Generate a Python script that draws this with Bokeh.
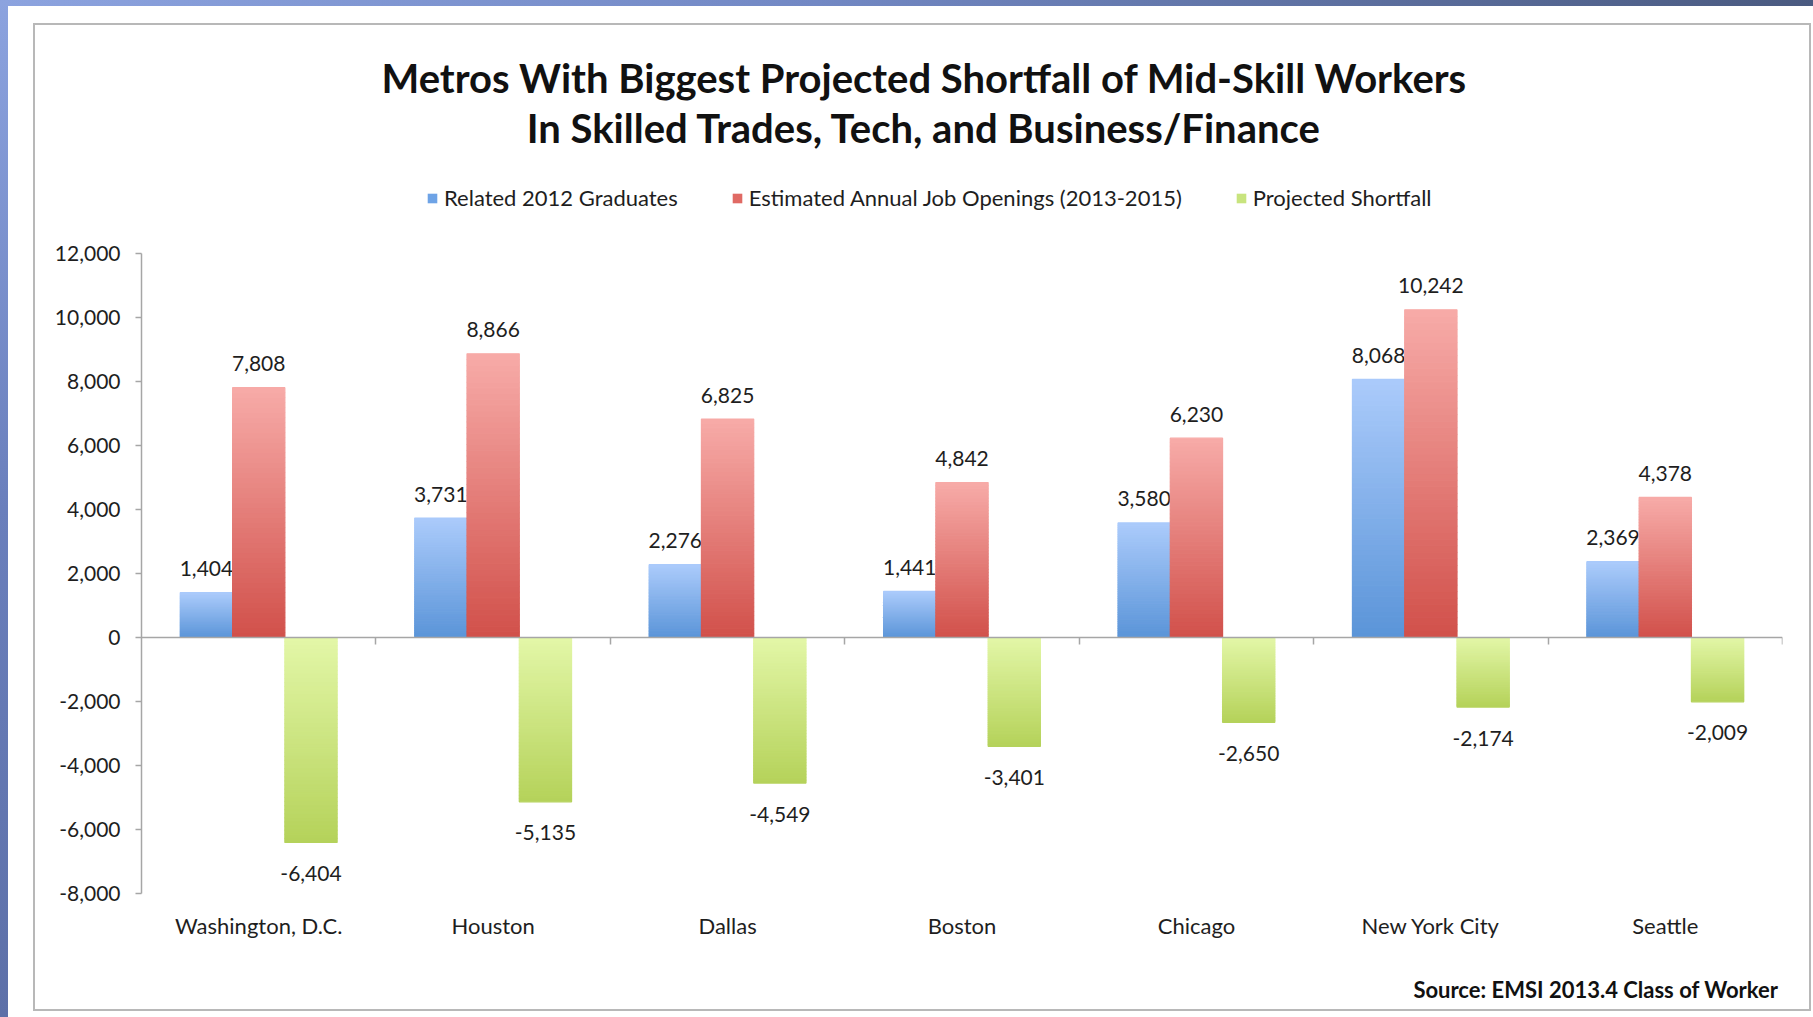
from bokeh.plotting import figure
from bokeh.layouts import column
from bokeh.models import (ColumnDataSource, Range1d, LinearAxis, FixedTicker,
                          NumeralTickFormatter, CustomJSTickFormatter, Legend,
                          LegendItem, Title, Label)
from bokeh.transform import dodge
from bokeh.core.properties import value
from bokeh.embed import file_html
from bokeh.resources import INLINE

# ---------------- data ----------------
cities = ["Washington, D.C.", "Houston", "Dallas", "Boston", "Chicago", "New York City", "Seattle"]
graduates = [1404, 3731, 2276, 1441, 3580, 8068, 2369]
openings = [7808, 8866, 6825, 4842, 6230, 10242, 4378]
shortfall = [-6404, -5135, -4549, -3401, -2650, -2174, -2009]
series_names = ["Related 2012 Graduates",
                "Estimated Annual Job Openings (2013-2015)",
                "Projected Shortfall"]
y_ticks = [-8000, -6000, -4000, -2000, 0, 2000, 4000, 6000, 8000, 10000, 12000]
y_min, y_max = -8000, 12000

title_lines = ["Metros With Biggest Projected Shortfall of Mid-Skill Workers",
               "In Skilled Trades, Tech, and Business/Finance"]
source_note = "Source: EMSI 2013.4 Class of Worker"

# category slots on a numeric axis (centre of slot i is i + 0.5)
n_cat = len(cities)
slot_centres = [i + 0.5 for i in range(n_cat)]
slot_edges = list(range(1, n_cat + 1))

# ---------------- layout / style ----------------
FONT = "Lato"
TXT = "#1e1e1e"
AX = "#a6a6a6"
grad = [("#abcbfb", "#5a94d8"),   # blue: light top, dark bottom
        ("#f7aba8", "#d1504a"),   # red
        ("#e3f7a8", "#b5d25a")]   # green
legend_cols = ["#6ea3e6", "#e06a64", "#c8e47e"]
BAR_W = 0.223
offsets = [-BAR_W, 0.0, BAR_W]
N = 50

W, H = 1774, 984
PLOT_PX = 640                      # pixel height of the y_min..y_max span
HEAD_PX = 228                      # header space above y_max, inside the frame
px_per_unit = PLOT_PX / (y_max - y_min)
y_top = y_max + HEAD_PX / px_per_unit


def head_y(px_below_top):
    """data y for a point px_below_top pixels below the top of the frame"""
    return y_top - px_below_top / px_per_unit


p = figure(x_range=Range1d(0, n_cat), y_range=Range1d(y_min, y_top),
           width=W, height=H, output_backend="svg", toolbar_location=None,
           min_border_left=106, min_border_right=27, min_border_top=0, min_border_bottom=116)
p.margin = (25, 4, 8, 35)
p.styles = {"outline": "2px solid #b8b8b8"}
p.outline_line_color = None
p.xgrid.grid_line_color = None
p.ygrid.grid_line_color = None
p.background_fill_color = "white"
p.border_fill_color = "white"

# y axis
p.yaxis.ticker = FixedTicker(ticks=y_ticks)
p.yaxis.bounds = (y_min, y_max)
p.yaxis.formatter = NumeralTickFormatter(format="0,0")
p.yaxis.axis_line_color = AX
p.yaxis.axis_line_width = 1.5
p.yaxis.major_tick_line_color = AX
p.yaxis.major_tick_line_width = 1.5
p.yaxis.major_tick_out = 6
p.yaxis.major_tick_in = 0
p.yaxis.minor_tick_line_color = None
p.yaxis.major_label_text_font = FONT
p.yaxis.major_label_text_font_size = "21px"
p.yaxis.major_label_text_color = TXT
p.yaxis.major_label_standoff = 15

# category axis (labels only); the trailing empty line reserves room above the source note
p.xaxis.ticker = FixedTicker(ticks=slot_centres)
p.xaxis.major_label_overrides = {c: name + "\n" for c, name in zip(slot_centres, cities)}
p.xaxis.axis_line_color = None
p.xaxis.major_tick_line_color = None
p.xaxis.minor_tick_line_color = None
p.xaxis.major_label_text_font = FONT
p.xaxis.major_label_text_font_size = "22px"
p.xaxis.major_label_text_color = TXT
p.xaxis.major_label_standoff = 12

# zero line with ticks at category boundaries
zero_ax = LinearAxis(fixed_location=0,
                     ticker=FixedTicker(ticks=slot_edges),
                     formatter=CustomJSTickFormatter(code="return ''"),
                     axis_line_color=AX, axis_line_width=1.5,
                     major_tick_line_color=AX, major_tick_line_width=1.5,
                     major_tick_out=7, major_tick_in=0, minor_tick_line_color=None,
                     major_label_standoff=0)
p.add_layout(zero_ax, "below")


def h2rgb(h):
    return tuple(int(h[i:i + 2], 16) for i in (1, 3, 5))


def mix(c_dark, c_light, t):
    a, b = h2rgb(c_dark), h2rgb(c_light)
    return "#%02x%02x%02x" % tuple(int(round(a[i] + (b[i] - a[i]) * t)) for i in range(3))


all_series = [graduates, openings, shortfall]
legend_items = []
for s, vals in enumerate(all_series):
    light, dark = grad[s]
    xs, tops, bots, cols = [], [], [], []
    for c, v in zip(slot_centres, vals):
        for k in range(N):
            lo, hi = v * k / N, v * (k + 1) / N
            frac = (k + 0.5) / N
            t = frac if v > 0 else 1 - frac
            xs.append(c)
            bots.append(lo)
            tops.append(hi)
            cols.append(mix(dark, light, t))
    src = ColumnDataSource(dict(x=xs, top=tops, bottom=bots, color=cols))
    p.vbar(x=dodge("x", offsets[s]), top="top", bottom="bottom",
           width=BAR_W, fill_color="color", line_color="color", line_width=1.2, source=src)

    # legend proxy (zero-height bars)
    lsrc = ColumnDataSource(dict(x=slot_centres, v=[0] * n_cat))
    r = p.vbar(x=dodge("x", offsets[s]), top="v", bottom="v", width=BAR_W,
               fill_color=legend_cols[s], line_color=None, source=lsrc)
    legend_items.append(LegendItem(label=series_names[s], renderers=[r]))

    # value labels
    labsrc = ColumnDataSource(dict(x=slot_centres, v=vals, lab=[f"{v:,}" for v in vals]))
    neg = vals[0] < 0
    p.text(x=dodge("x", offsets[s]), y="v", text="lab", source=labsrc,
           text_align="center", text_baseline="middle",
           y_offset=31 if neg else -24,
           text_font=value(FONT), text_font_size="21px", text_color=TXT)

# legend inside the header area of the frame
legend = Legend(items=legend_items, orientation="horizontal", location=(285, 682),
                glyph_width=12, glyph_height=12, label_standoff=6, spacing=53,
                label_height=20, padding=0, margin=0, border_line_color=None,
                background_fill_alpha=0,
                label_text_font=FONT, label_text_font_size="22px", label_text_color=TXT)
p.add_layout(legend, "center")

# title lines
title_x = 3.34
for line, px in zip(title_lines, (52, 102)):
    p.add_layout(Label(x=title_x, y=head_y(px), text=line,
                       text_align="center", text_baseline="middle", text_font=FONT,
                       text_font_style="bold", text_font_size="40px",
                       text_color="#111111"))

# source note
p.add_layout(Title(text=source_note, align="right", offset=4, standoff=0,
                   text_font=FONT, text_font_style="bold", text_font_size="22px",
                   text_color="#111111"), "below")

page_bg = ("linear-gradient(to right, #8ca3df, #7288c4 45%, #4a5a80) 0 0 / 100% 6px no-repeat, "
           "linear-gradient(to bottom, #8ca3df, #6a7fbc 50%, #5d70a8) 0 0 / 8px 100% no-repeat, "
           "#ffffff")
page = column(p, width=1813, height=1017, styles={"background": page_bg})

open("out.html", "w").write(file_html(page, INLINE))
